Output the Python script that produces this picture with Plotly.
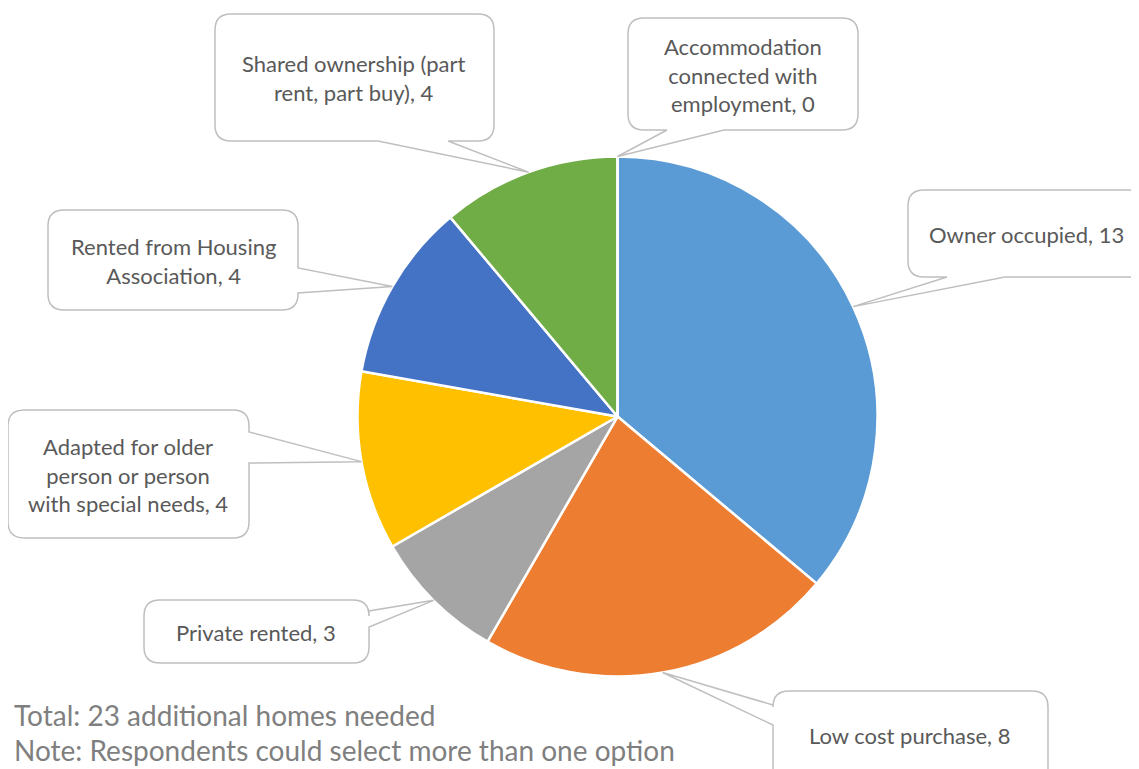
import numpy as np
import plotly.graph_objects as go

# the page puts an 8px margin round the plot, so the figure is drawn 8px smaller
# and every reference pixel position is shifted back by that offset
OFF = 8
W, H = 1139 - OFF, 769 - OFF

# data
categories = [
    "Owner occupied",
    "Low cost purchase",
    "Private rented",
    "Adapted for older person or person with special needs",
    "Rented from Housing Association",
    "Shared ownership (part rent, part buy)",
    "Accommodation connected with employment",
]
values = [13, 8, 3, 4, 4, 4, 0]
label_texts = [
    "Owner occupied, 13",
    "Low cost purchase, 8",
    "Private rented, 3",
    "Adapted for older<br>person or person<br>with special needs, 4",
    "Rented from Housing<br>Association, 4",
    "Shared ownership (part<br>rent, part buy), 4",
    "Accommodation<br>connected with<br>employment, 0",
]
colors = ["#5B9BD5", "#ED7D31", "#A5A5A5", "#FFC000", "#4472C4", "#70AD47", "#255E91"]
footnotes = ["Total: 23 additional homes needed", "Note: Respondents could select more than one option"]

# layout (reference pixels)
cx, cy, R = 617.5, 416.5, 260
# box: x0, y0, x1, y1, tail edge, tail start, tail end
boxes = [
    (908, 190, 1150, 277, "bottom", 947, 1005),
    (773, 691, 1048, 790, "left", 705, 725),
    (144, 600, 369, 663, "right", 611, 627),
    (8, 410, 249, 538, "right", 432, 463),
    (48, 210, 298, 310, "right", 268, 293),
    (215, 14, 494, 141, "bottom", 378, 448),
    (628, 18, 858, 130, "bottom", 667, 724),
]
text_pos = [(1026, 234), (910, 735), (256, 632), (128, 475), (173, 261), (354, 78), (743, 75)]
foot_y = [715, 750]


def fx(x):
    return (x - OFF) / W


def fy(y):
    return 1 - (y - OFF) / H


def px(x, y):
    return f"{fx(x):.5f},{fy(y):.5f}"


def callout_path(x0, y0, x1, y1, edge, t0, t1, tip, r=16):
    p = [f"M{px(x0 + r, y0)}"]
    if edge == "top":
        p += [f"L{px(t0, y0)}", f"L{px(*tip)}", f"L{px(t1, y0)}"]
    p += [f"L{px(x1 - r, y0)}", f"Q{px(x1, y0)} {px(x1, y0 + r)}"]
    if edge == "right":
        p += [f"L{px(x1, t0)}", f"L{px(*tip)}", f"L{px(x1, t1)}"]
    p += [f"L{px(x1, y1 - r)}", f"Q{px(x1, y1)} {px(x1 - r, y1)}"]
    if edge == "bottom":
        p += [f"L{px(t1, y1)}", f"L{px(*tip)}", f"L{px(t0, y1)}"]
    p += [f"L{px(x0 + r, y1)}", f"Q{px(x0, y1)} {px(x0, y1 - r)}"]
    if edge == "left":
        p += [f"L{px(x0, t1)}", f"L{px(*tip)}", f"L{px(x0, t0)}"]
    p += [f"L{px(x0, y0 + r)}", f"Q{px(x0, y0)} {px(x0 + r, y0)}", "Z"]
    return " ".join(p)


fig = go.Figure(go.Pie(
    labels=categories,
    values=values,
    sort=False,
    direction="clockwise",
    marker=dict(colors=colors, line=dict(color="white", width=2.5)),
    textinfo="none",
    hoverinfo="label+value",
    showlegend=False,
    domain=dict(x=[fx(cx - R), fx(cx + R)], y=[fy(cy + R), fy(cy - R)]),
))

# leader tips at the middle of each slice's outer edge
total = sum(values)
cum = np.cumsum([0] + values)
shapes, annotations = [], []
for i, (b, t) in enumerate(zip(boxes, text_pos)):
    ang = np.deg2rad((cum[i] + values[i] / 2) / total * 360)
    tip = (cx + R * np.sin(ang), cy - R * np.cos(ang))
    shapes.append(dict(
        type="path", xref="paper", yref="paper",
        path=callout_path(*b[:4], b[4], b[5], b[6], tip),
        fillcolor="white", line=dict(color="#BFBFBF", width=1.5),
    ))
    annotations.append(dict(
        text=label_texts[i], x=fx(t[0]), y=fy(t[1]), xref="paper", yref="paper",
        showarrow=False, xanchor="center", yanchor="middle", align="center",
        font=dict(size=22, color="#595959", family="Lato"),
    ))

for txt, y in zip(footnotes, foot_y):
    annotations.append(dict(
        text=txt, x=fx(12), y=fy(y), xref="paper", yref="paper",
        showarrow=False, xanchor="left", yanchor="middle", align="left",
        font=dict(size=28, color="#7F7F7F", family="Lato"),
    ))

fig.update_layout(
    width=W, height=H,
    margin=dict(l=0, r=0, t=0, b=0),
    paper_bgcolor="white",
    shapes=shapes,
    annotations=annotations,
    font=dict(family="Lato"),
)

fig.write_html("out.html")
